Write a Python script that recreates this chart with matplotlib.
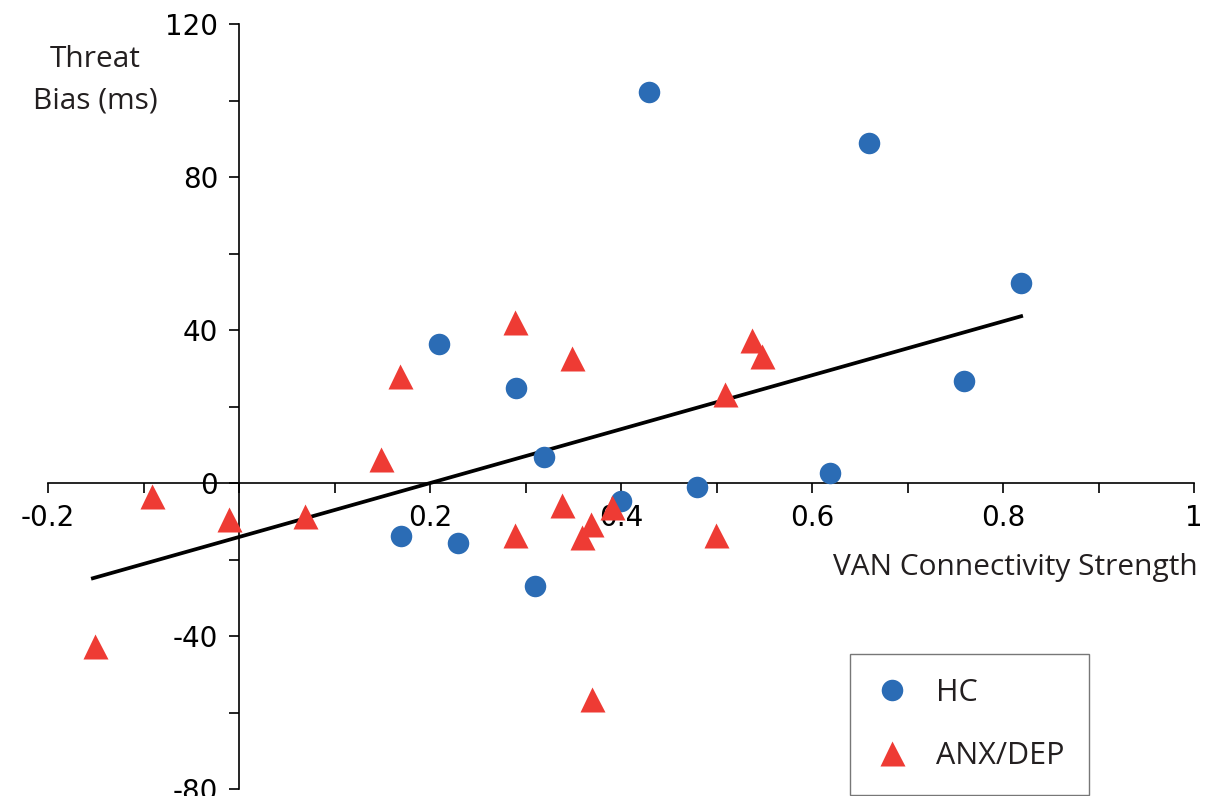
#
# Threat bias vs VAN connectivity strength, HC and ANX/DEP groups,
# with the fitted regression line. Saves out.png.
#

import matplotlib
matplotlib.use("Agg")
import matplotlib.pyplot as plt
from matplotlib.ticker import MultipleLocator

# HC (blue circles)
hc_x = [0.429, 0.660, 0.819, 0.209, 0.290, 0.319, 0.759, 0.619, 0.480, 0.400, 0.170, 0.229, 0.310]
hc_y = [102.2, 88.9, 52.3, 36.3, 24.8, 6.8, 26.7, 2.6, -1.0, -4.7, -13.9, -15.7, -26.9]

# ANX/DEP (red triangles)
anx_x = [0.289, 0.349, 0.537, 0.548, 0.509, 0.169, 0.149, -0.091, -0.010, 0.069,
         0.338, 0.391, 0.369, 0.359, 0.289, 0.499, -0.151, 0.370]
anx_y = [42.1, 32.7, 37.4, 33.2, 23.3, 28.0, 6.3, -3.4, -9.4, -8.6,
         -5.8, -6.3, -10.7, -14.1, -13.6, -13.6, -42.6, -56.5]

# regression line end points
fit_x = [-0.153, 0.819]
fit_y = [-24.9, 43.6]

xticks = [-0.2, 0, 0.2, 0.4, 0.6, 0.8, 1.0]
xtick_labels = ["-0.2", "", "0.2", "0.4", "0.6", "0.8", "1"]
yticks = [-80, -40, 0, 40, 80, 120]
ytick_labels = ["-80", "-40", "0", "40", "80", "120"]

blue = "#2b6cb5"
red = "#ee3b34"
text_col = "#231f20"
label_font = ["Open Sans", "DejaVu Sans"]

fig = plt.figure(figsize=(12.15, 7.96), dpi=100)
ax = fig.add_axes([48 / 1215, 7 / 796, (1194 - 48) / 1215, (789 - 24) / 796])

ax.plot(fit_x, fit_y, color="black", lw=2.7, zorder=2)
ax.plot(hc_x, hc_y, "o", color=blue, ms=15.5, mec="none", label="HC", zorder=3)
ax.plot(anx_x, anx_y, "^", color=red, ms=18, mec="none", label="ANX/DEP", zorder=3)

ax.set_xlim(-0.2, 1.0)
ax.set_ylim(-80, 120)

for side in ["top", "right"]:
    ax.spines[side].set_visible(False)
ax.spines["left"].set_position(("data", 0))
ax.spines["bottom"].set_position(("data", 0))
for side in ["left", "bottom"]:
    ax.spines[side].set_linewidth(1.2)

ax.set_xticks(xticks)
ax.set_xticklabels(xtick_labels)
ax.set_yticks(yticks)
ax.set_yticklabels(ytick_labels)
ax.xaxis.set_minor_locator(MultipleLocator(0.1))
ax.yaxis.set_minor_locator(MultipleLocator(20))
ax.tick_params(which="both", direction="out", length=7, width=1.2, labelsize=20, pad=8)
ax.tick_params(axis="y", pad=8)

fig.text(95 / 1215, 1 - 80 / 796, "Threat\nBias (ms)", ha="center", va="center",
         fontsize=21.5, family=label_font, color=text_col, linespacing=1.55)
fig.text(1198 / 1215, 1 - 567 / 796, "VAN Connectivity Strength", ha="right", va="center",
         fontsize=21.5, family=label_font, color=text_col)

leg = ax.legend(loc="upper left", bbox_to_anchor=(850 / 1215, 1 - 654 / 796),
                bbox_transform=fig.transFigure, prop={"family": label_font, "size": 22},
                frameon=True, fancybox=False, borderpad=0.78, handlelength=1.2,
                handletextpad=0.84, labelspacing=1.08, borderaxespad=0)
leg.get_frame().set_edgecolor("#555555")
leg.get_frame().set_linewidth(1.0)
for t in leg.get_texts():
    t.set_color(text_col)

fig.savefig("out.png", dpi=100)
